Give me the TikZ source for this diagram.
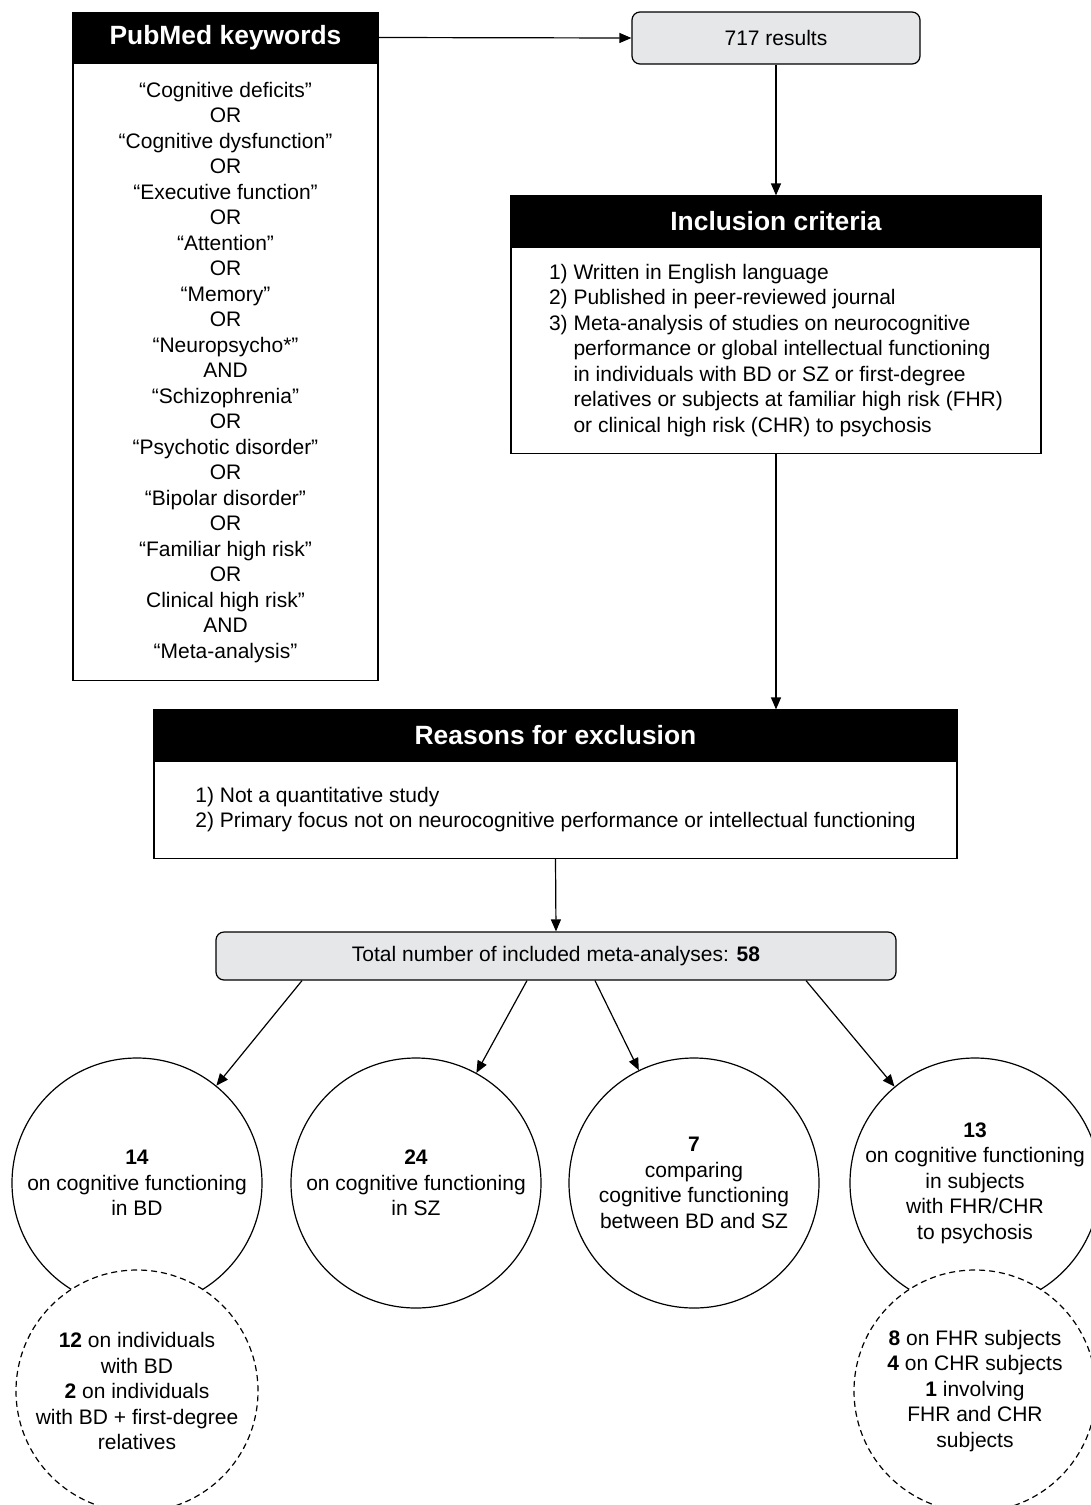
\documentclass[tikz,border=0pt]{standalone}
\usepackage{fontspec}
\setmainfont{Liberation Sans}
\usetikzlibrary{positioning,arrows.meta}
\definecolor{boxgrey}{HTML}{E6E7E8}

\begin{document}
\begin{tikzpicture}[x=1pt,y=-1pt,node distance=0pt,line width=1.2pt,
    font=\fontsize{21}{25.5}\selectfont,
    >={Triangle[length=12pt,width=10pt]},
    head node/.style={rectangle,draw=black,fill=black,text=white,inner sep=0pt,minimum height=50pt,font=\fontsize{26.4}{30}\selectfont\bfseries},
    body node/.style={rectangle,draw=black,fill=white,inner sep=0pt},
    grey node/.style={rectangle,rounded corners=8pt,draw=black,fill=boxgrey,inner sep=0pt,minimum height=50pt},
    count node/.style={circle,draw=black,fill=white,align=center,inner sep=0pt,minimum size=250pt},
    sub node/.style={count node,minimum size=242pt,dash pattern=on 6pt off 4pt}]
    \useasboundingbox (0,0) rectangle (1091,1505);
    % search, screening and the numbers found
    \node[head node,minimum width=305pt] (1) at (225.5,37.5) {PubMed keywords};
    \node[body node,minimum width=305pt,minimum height=617pt,align=center] (1b) [below=of 1] {“Cognitive deficits”\\OR\\“Cognitive dysfunction”\\OR\\“Executive function”\\OR\\“Attention”\\OR\\“Memory”\\OR\\“Neuropsycho*”\\AND\\“Schizophrenia”\\OR\\“Psychotic disorder”\\OR\\“Bipolar disorder”\\OR\\“Familiar high risk”\\OR\\Clinical high risk”\\AND\\“Meta-analysis”};
    \node[grey node,minimum width=288pt,minimum height=52pt] (2) at (776,38) {717 results};
    \node[head node,minimum width=530pt] (3) at (776,221) {Inclusion criteria};
    \node[body node,minimum width=530pt,minimum height=206pt,align=left] (3b) [below=of 3] {1) Written in English language\\2) Published in peer-reviewed journal\\3) Meta-analysis of studies on neurocognitive\\\phantom{3)} performance or global intellectual functioning\\\phantom{3)} in individuals with BD or SZ or first-degree\\\phantom{3)} relatives or subjects at familiar high risk (FHR)\\\phantom{3)} or clinical high risk (CHR) to psychosis};
    \node[head node,minimum width=803pt] (4) at (555.5,735) {Reasons for exclusion};
    \node[body node,minimum width=803pt,minimum height=97pt,align=left] (4b) [below=of 4] {1) Not a quantitative study\\2) Primary focus not on neurocognitive performance or intellectual functioning};
    \node[grey node,minimum width=680pt,minimum height=48pt] (5) at (556,956) {Total number of included meta-analyses: \textbf{58}};
    \node[count node] (6) at (137,1183) {\textbf{14}\\on cognitive functioning\\in BD};
    \node[count node] (7) at (416,1183) {\textbf{24}\\on cognitive functioning\\in SZ};
    \node[count node] (8) at (694,1183) {\textbf{7}\\comparing\\cognitive functioning\\between BD and SZ};
    \node[count node] (9) at (975,1183) {\textbf{13}\\on cognitive functioning\\in subjects\\with FHR/CHR\\to psychosis};
    \node[sub node] (6s) at (137,1391) {\textbf{12} on individuals\\with BD\\\textbf{2} on individuals\\with BD + first-degree\\relatives};
    \node[sub node] (9s) at (975,1391) {\textbf{8} on FHR subjects\\\textbf{4} on CHR subjects\\\textbf{1} involving\\FHR and CHR\\subjects};

    \path[->]
    (1.east) edge (2.west)
    (2.south) edge (3.north)
    (3b.south) edge (3b.south |- 4.north)
    (4b.south) edge (5.north)
    ([xshift=-254pt]5.south) edge (6)
    ([xshift=-29pt]5.south) edge (7)
    ([xshift=39pt]5.south) edge (8)
    ([xshift=250pt]5.south) edge (9);
\end{tikzpicture}
\end{document}
